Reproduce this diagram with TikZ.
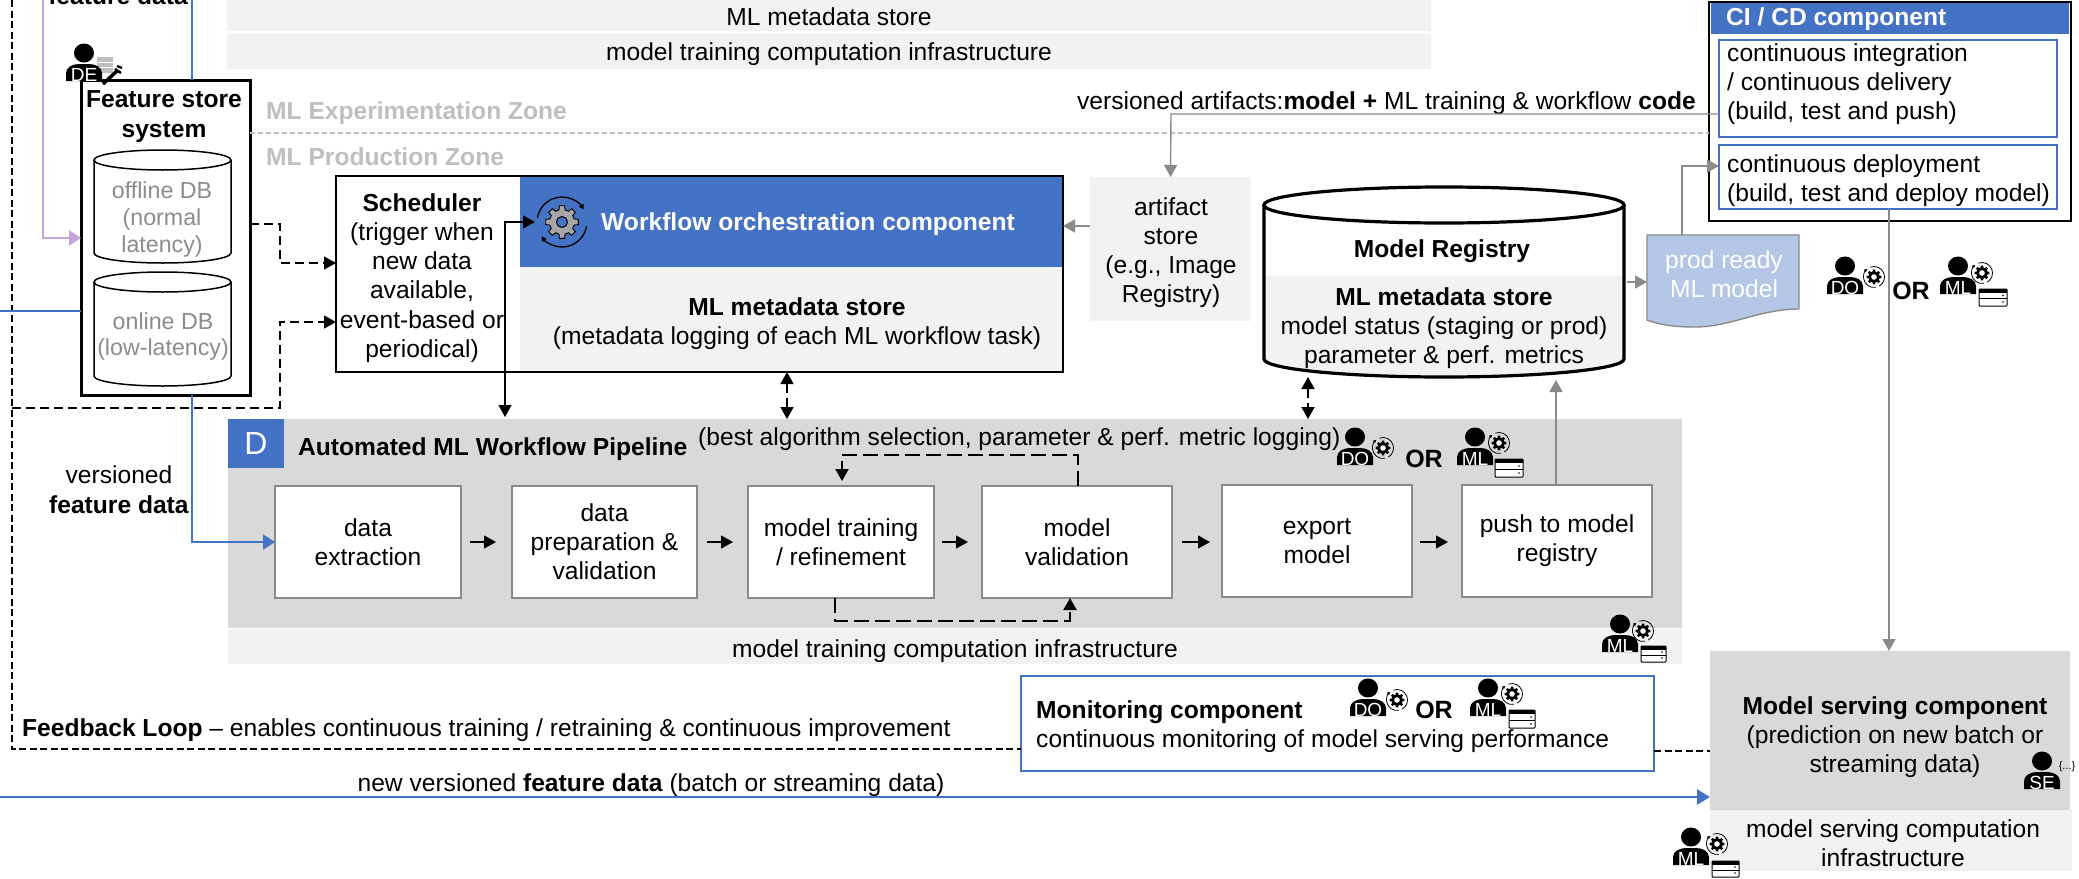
\documentclass[tikz,border=0pt]{standalone}
\usepackage{fontspec}
\setmainfont{Liberation Sans}
\usetikzlibrary{arrows.meta,calc}
\definecolor{cblue}{HTML}{4472C4}
\definecolor{lgray}{HTML}{F2F2F2}
\definecolor{mgray}{HTML}{D9D9D9}
\definecolor{zgray}{HTML}{BFBFBF}
\definecolor{tgray}{HTML}{8C8C8C}
\definecolor{agray}{HTML}{8A8A8A}
\definecolor{cpurple}{HTML}{C3A5DB}
\definecolor{docblue}{HTML}{B4C7E7}
\newcommand{\mkbox}[7]{\node[#6,anchor=north west,inner sep=0pt,outer sep=0pt,align=center,minimum width={(#4-#2)*1pt},minimum height={(#5-#3)*1pt}] (#1) at (#2,#3) {#7};}
\newcommand{\mkcyl}[8]{%
  \pgfmathsetmacro{\cylrx}{(#4-#2)/2}\pgfmathsetmacro{\cylcx}{(#4+#2)/2}\pgfmathsetmacro{\cyltop}{#3+#6}\pgfmathsetmacro{\cylbot}{#5-#6}\pgfmathsetmacro{\cylcy}{(#3+#5)/2}
  \fill[white] (#2,\cyltop) -- (#2,\cylbot) arc[start angle=180,end angle=360,x radius=\cylrx pt,y radius=#6 pt] -- (#4,\cyltop) arc[start angle=0,end angle=180,x radius=\cylrx pt,y radius=#6 pt] -- cycle;
  \begin{scope}
    \clip (#2,\cyltop) -- (#2,\cylbot) arc[start angle=180,end angle=360,x radius=\cylrx pt,y radius=#6 pt] -- (#4,\cyltop) -- cycle;
    \fill[lgray] (#2,#8) rectangle (#4,#5);
  \end{scope}
  \draw[line width=#7] (#2,\cyltop) -- (#2,\cylbot) arc[start angle=180,end angle=360,x radius=\cylrx pt,y radius=#6 pt] -- (#4,\cyltop);
  \draw[line width=#7,fill=white] (\cylcx,\cyltop) ellipse[x radius=\cylrx pt,y radius=#6 pt];
  \node[inner sep=0pt,outer sep=0pt,minimum width={(#4-#2)*1pt},minimum height={(#5-#3)*1pt}] (#1) at (\cylcx,\cylcy) {};}
\newcommand{\personicon}[4]{%
  \begin{scope}[shift={(#2,#3)},x=1pt,y=-1pt]
    \fill (0,0) ellipse[x radius=10pt,y radius=9.5pt];
    \fill (-18,28) -- (-18,20) .. controls (-18,14) and (-11,11) .. (-5,11) -- (5,11) .. controls (11,11) and (18,14) .. (18,20) -- (18,28) -- cycle;
  \end{scope}
  \node[font=\fontsize{19}{19}\selectfont,text=white,inner sep=0pt] (#1) at (#2,#3+22) {#4};}
\newcommand{\gearpath}[2]{(-14:#2pt) \foreach \a in {0,45,...,315}{ -- (\a-9:#1pt) -- (\a+9:#1pt) -- (\a+14:#2pt) -- (\a+31:#2pt)} -- cycle}
\newcommand{\gearicon}[2]{%
  \begin{scope}[shift={(#1,#2)},x=1pt,y=1pt]
    \draw[line width=.8pt] (0,0) ++(110:10.5) arc[start angle=110,end angle=-60,radius=10.5pt];
    \draw[line width=.8pt,-{Triangle[length=3pt,width=3pt]}] (0,0) ++(-80:10.5) arc[start angle=-80,end angle=-230,radius=10.5pt];
    \fill \gearpath{7.4}{5.6};
    \fill[white] (0,0) circle[radius=2.8pt];
  \end{scope}}
\newcommand{\servericon}[4]{%
  \pgfmathsetmacro{\srvmid}{(#2+#4)/2+1}
  \draw[line width=1pt,fill=white,rounded corners=.8pt] (#1,#2) rectangle (#3,#4);
  \fill (#1,#2) rectangle (#3,#2+4);
  \draw[line width=1pt] (#1,\srvmid) -- (#3,\srvmid);
  \fill (#3-4,\srvmid-3) circle[radius=.9pt];
  \fill (#3-4,#4-4) circle[radius=.9pt];}
\tikzset{
  txt/.style={font=\fontsize{24.6}{29}\selectfont,inner sep=0pt,align=center},
  btxt/.style={txt,font=\fontsize{24.6}{30}\bfseries\selectfont},
  wfstep/.style={draw=agray,line width=1.6pt,fill=white},
  blackhead/.style={-{Triangle[length=12pt,width=13pt]}},
  grayhead/.style={draw=agray,-{Triangle[length=12pt,width=13pt]},color=agray},
  blueline/.style={draw=cblue,line width=2pt},
  loopdash/.style={line width=2pt,dash pattern=on 15pt off 6pt},
  blackdash/.style={line width=1.6pt,dash pattern=on 9pt off 5pt},
  fbdash/.style={line width=1.2pt,dash pattern=on 7pt off 3.5pt},
}
\begin{document}
\begin{tikzpicture}[x=1pt,y=-1pt]
\useasboundingbox (0,0) rectangle (2079,878);
\clip (0,0) rectangle (2079,878);
\fill[white] (0,0) rectangle (2079,878);
% top bars
\mkbox{topa}{227}{0}{1431}{31}{fill=lgray}{}
\node[txt] (topatxt) at (829,17) {ML metadata store};
\mkbox{topb}{227}{34}{1431}{69}{fill=lgray}{}
\node[txt] (topbtxt) at (829,54) {model training computation infrastructure};
% zone labels
\node[btxt,text=zgray,anchor=west] (zexp) at (266,113) {ML Experimentation Zone};
\node[btxt,text=zgray,anchor=west] (zprod) at (266,157) {ML Production Zone};
% pipeline backgrounds
\mkbox{pipeline}{228}{419}{1682}{628}{fill=mgray}{}
\mkbox{pipeinfra}{228}{629}{1682}{664}{fill=lgray}{}
\node[txt] (pipeinfratxt) at (955,651) {model training computation infrastructure};
\mkbox{dbox}{228}{419}{284}{468}{fill=cblue,text=white,font=\fontsize{32}{32}\selectfont}{D}
\node[btxt,anchor=west] (pipetitle) at (298,449) {Automated ML Workflow Pipeline};
\node[txt,anchor=west] (pipenote) at (698,439) {(best algorithm selection, parameter \& perf. metric logging)};
% feature store
\mkbox{fstore}{81}{80}{250}{395}{draw,line width=3pt,fill=white}{}
\node[btxt] (fstitle) at (164,117) {Feature store\\system};
\mkcyl{offdb}{94}{150}{231}{263}{10}{1.5pt}{300}
\mkcyl{ondb}{94}{272}{231}{386}{10}{1.5pt}{400}
\node[txt,text=tgray,font=\fontsize{23.2}{27}\selectfont] (offtxt) at (162,219) {offline DB\\(normal\\latency)};
\node[txt,text=tgray,font=\fontsize{23.2}{26}\selectfont] (ontxt) at (163,336) {online DB\\(low-latency)};
% main box
\mkbox{wfhead}{520}{176}{1063}{267}{fill=cblue}{}
\mkbox{wfmeta}{520}{267}{1063}{372}{fill=lgray}{}
\mkbox{sched}{336}{176}{520}{372}{}{}
\draw[line width=2.6pt] (sched.north west) rectangle (wfmeta.south east);
\node[txt,font=\fontsize{24.6}{29.2}\selectfont] (schedtxt) at (422,278) {\textbf{Scheduler}\\(trigger when\\new data\\available,\\event-based or\\periodical)};
\node[btxt,text=white,anchor=west] (wftitle) at (601,224) {Workflow orchestration component};
\node[txt] (wfmetatxt) at (797,324) {\textbf{ML metadata store}\\(metadata logging of each ML workflow task)};
% workflow gear
\begin{scope}[shift={(562,222)},x=1pt,y=1pt]
  \draw[line width=1.3pt,-{Triangle[length=5pt,width=5pt]}] (0,0) ++(170:25) arc[start angle=170,end angle=30,radius=25pt];
  \draw[line width=1.3pt,-{Triangle[length=5pt,width=5pt]}] (0,0) ++(-10:25) arc[start angle=-10,end angle=-145,radius=25pt];
  \draw[fill=black!35,line width=.9pt] \gearpath{16.5}{12.5};
  \draw[fill=cblue,line width=1pt] (0,0) circle[radius=5.5pt];
\end{scope}
% artifact store
\mkbox{artifact}{1090}{177}{1251}{321}{fill=lgray}{}
\node[txt] (arttxt) at (1171,253) {artifact\\store\\(e.g., Image\\Registry)};
% registry
\mkcyl{registry}{1264}{187}{1624}{377}{18}{3.2pt}{276}
\node[btxt] (regtitle) at (1442,251) {Model Registry};
\node[txt] (regtxt) at (1444,328) {\textbf{ML metadata store}\\model status (staging or prod)\\parameter \& perf. metrics};
% document
\draw[draw=agray,line width=1.4pt,fill=docblue] (1647,235) -- (1799,235) -- (1799,309) .. controls (1760,309) and (1730,327) .. (1695,327) .. controls (1675,327) and (1660,325) .. (1647,320) -- cycle;
\node[inner sep=0pt,outer sep=0pt,minimum width=152pt,minimum height=92pt] (prodml) at (1723,281) {};
\node[txt,text=white] (prodtxt) at (1724,274) {prod ready\\ML model};
% CI/CD
\mkbox{cicd}{1709}{2}{2071}{221}{draw,line width=2.8pt,fill=white}{}
\mkbox{cihead}{1711}{3}{2069}{34}{fill=cblue}{}
\node[btxt,text=white,anchor=west] (citxt) at (1726,19) {CI / CD component};
\mkbox{ci}{1719}{40}{2057}{137}{draw=cblue,line width=1.6pt}{}
\node[txt,anchor=west,align=left] (citext) at (1727,84) {continuous integration\\/ continuous delivery\\(build, test and push)};
\mkbox{cd}{1719}{145}{2057}{209}{draw=cblue,line width=1.6pt}{}
\node[txt,anchor=west,align=left] (cdtext) at (1727,181) {continuous deployment\\(build, test and deploy model)};
% steps
\mkbox{s1}{275}{486}{461}{598}{wfstep,txt}{data\\extraction}
\mkbox{s2}{512}{486}{697}{598}{wfstep,txt}{data\\preparation \&\\validation}
\mkbox{s3}{748}{486}{934}{598}{wfstep,txt}{model training\\/ refinement}
\mkbox{s4}{982}{486}{1172}{598}{wfstep,txt}{model\\validation}
\mkbox{s5}{1222}{485}{1412}{597}{wfstep,txt}{export\\model}
\mkbox{s6}{1462}{485}{1652}{597}{wfstep,txt}{push to model\\registry}
\draw[blackhead,line width=1.3pt,shorten <=9pt,shorten >=16pt] (s1.east |- 0,542) -- (s2.west |- 0,542);
\draw[blackhead,line width=1.3pt,shorten <=10pt,shorten >=15pt] (s2.east |- 0,542) -- (s3.west |- 0,542);
\draw[blackhead,line width=1.3pt,shorten <=8pt,shorten >=14pt] (s3.east |- 0,542) -- (s4.west |- 0,542);
\draw[blackhead,line width=1.3pt,shorten <=10pt,shorten >=12pt] (s4.east |- 0,542) -- (s5.west |- 0,542);
\draw[blackhead,line width=1.3pt,shorten <=8pt,shorten >=14pt] (s5.east |- 0,542) -- (s6.west |- 0,542);
\draw[loopdash,blackhead] (1078,0 |- s4.north) -- (1078,455) -- (842,455) -- (842,481);
\draw[loopdash,blackhead] (835,0 |- s3.south) -- (835,621) -- (1070,621) -- (1070,0 |- s4.south);
% monitoring
\mkbox{monitor}{1021}{676}{1654}{771}{draw=cblue,line width=2.4pt,fill=white}{}
\node[btxt,anchor=west] (montitle) at (1036,712) {Monitoring component};
\node[txt,anchor=west] (montxt) at (1036,741) {continuous monitoring of model serving performance};
% serving
\mkbox{serving}{1710}{651}{2070}{810}{fill=mgray}{}
\node[txt] (servtxt) at (1895,737) {\textbf{Model serving component}\\(prediction on new batch or\\streaming data)};
\mkbox{servinfra}{1710}{810}{2072}{871}{fill=lgray}{}
\node[txt] (servinfratxt) at (1893,843) {model serving computation\\infrastructure};
% free texts
\node[btxt,anchor=base] (fdtop) at (118,5) {feature data};
\node[txt,font=\fontsize{24.6}{30}\selectfont] (vfd) at (119,490) {versioned\\\textbf{feature data}};
\node[txt,anchor=west] (fbtxt) at (22,730) {\textbf{Feedback Loop} -- enables continuous training / retraining \& continuous improvement};
\node[txt] (newtxt) at (651,785) {new versioned \textbf{feature data} (batch or streaming data)};
\node[txt,anchor=east] (vatxt) at (1696,103) {versioned artifacts:\textbf{model +} ML training \& workflow \textbf{code}};
% connectors
\draw[draw=zgray,line width=1.2pt,dash pattern=on 5pt off 3pt] (fstore.east |- 0,133) -- (cicd.west |- 0,133);
\draw[fbdash] (12,0) -- (12,749) -- (monitor.west |- 0,749);
\draw[fbdash] (monitor.east |- 0,751) -- (serving.west |- 0,751);
\draw[blackdash,line width=1.3pt,blackhead] (fstore.east |- 0,224) -- (280,224) -- (280,263) -- (sched.west |- 0,263);
\draw[blackdash,line width=1.3pt,blackhead] (12,408) -- (280,408) -- (280,322) -- (sched.west |- 0,322);
\draw[draw=cpurple,line width=2.6pt,-{Triangle[length=12pt,width=15pt]},color=cpurple] (43,0) -- (43,238) -- (fstore.west |- 0,238);
\draw[blueline] (191.5,0) -- (191.5,0 |- fstore.north);
\draw[blueline] (0,311) -- (fstore.west |- 0,311);
\draw[blueline,-{Triangle[length=12pt,width=15pt]},color=cblue] (191.5,0 |- fstore.south) -- (191.5,542) -- (s1.west |- 0,542);
\draw[blueline,line width=2.6pt,-{Triangle[length=13pt,width=15pt]},color=cblue] (0,797) -- (serving.west |- 0,797);
\draw[line width=1.2pt,{Triangle[length=12pt,width=13pt]}-{Triangle[length=12pt,width=13pt]}] (505,417) -- (505,222) -- (535,222);
\draw[blackdash,{Triangle[length=12pt,width=13pt]}-{Triangle[length=12pt,width=13pt]}] (787,0 |- wfmeta.south) -- (787,0 |- pipeline.north);
\draw[blackdash,{Triangle[length=12pt,width=13pt]}-{Triangle[length=12pt,width=13pt]}] (1308,377) -- (1308,0 |- pipeline.north);
\draw[grayhead,line width=1.2pt] (1556,0 |- s6.north) -- (1556,380);
\draw[grayhead,line width=1.4pt] (ci.west |- 0,114) -- (1171,114) -- (artifact.north);
\draw[grayhead,line width=1.4pt] (artifact.west |- 0,226) -- (wfhead.east |- 0,226);
\draw[grayhead,line width=1.4pt] (registry.east |- 0,282) ++(3,0) -- (prodml.west |- 0,282);
\draw[grayhead,line width=1.2pt] (1682,0 |- prodml.north) -- (1682,166) -- (cd.west |- 0,166);
\draw[grayhead,line width=1.2pt] (1889,0 |- cd.south) -- (1889,0 |- serving.north);
% role icons
\fill[black!25] (97,57) rectangle (113,73);
\foreach \yy in {62,67}{\draw[white,line width=1pt] (97,\yy) -- (113,\yy);}
\personicon{roleDE}{84}{53}{DE}
\draw[line width=3.5pt] (103,84) -- (118,70);
\draw[line width=2.4pt] (115,69) -- (121,73) (117,66) -- (122,68);
\personicon{roleDOa}{1845}{266}{DO}
\gearicon{1874}{277}
\node[btxt,font=\fontsize{25}{25}\bfseries\selectfont] (orA) at (1911,291) {OR};
\personicon{roleMLa}{1958}{266}{ML}
\gearicon{1982}{273}
\servericon{1979}{289}{2007}{306}
\personicon{roleDOb}{1355}{437}{DO}
\gearicon{1383}{448}
\node[btxt,font=\fontsize{25}{25}\bfseries\selectfont] (orB) at (1424,459) {OR};
\personicon{roleMLb}{1475}{437}{ML}
\gearicon{1499}{443}
\servericon{1495}{459}{1523}{477}
\personicon{roleMLc}{1620}{624}{ML}
\gearicon{1643}{631}
\servericon{1641}{646}{1666}{662}
\personicon{roleDOc}{1368}{688}{DO}
\gearicon{1397}{700}
\node[btxt,font=\fontsize{25}{25}\bfseries\selectfont] (orC) at (1434,710) {OR};
\personicon{roleMLd}{1488}{688}{ML}
\gearicon{1512}{694}
\servericon{1509}{710}{1535}{728}
\personicon{roleSE}{2042}{761}{SE}
\node[font=\fontsize{11}{11}\selectfont,inner sep=0pt] (setxt) at (2067,767) {\{...\}};
\personicon{roleMLe}{1691}{837}{ML}
\gearicon{1717}{844}
\servericon{1712}{861}{1739}{877}
\end{tikzpicture}
\end{document}
